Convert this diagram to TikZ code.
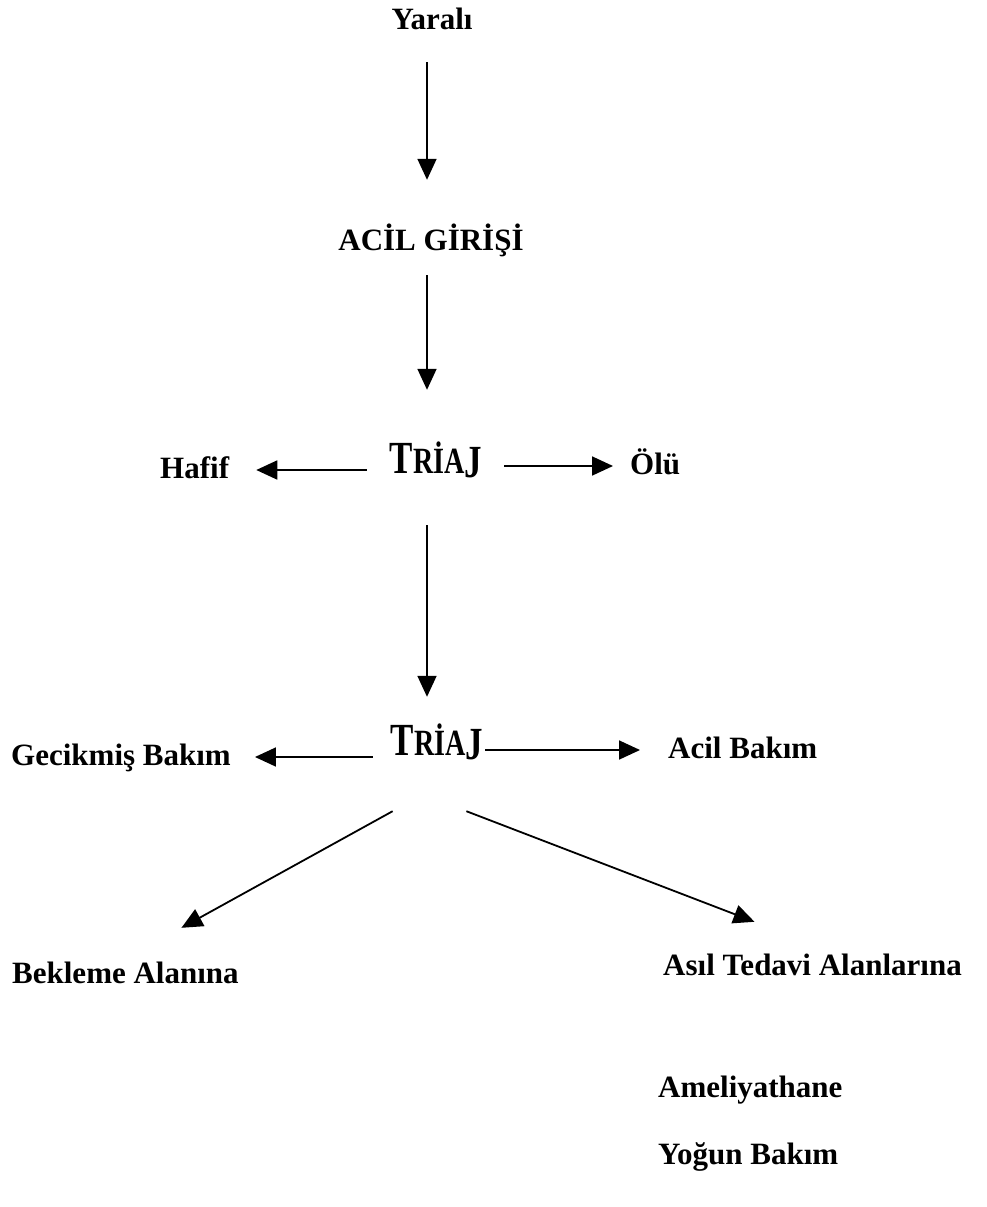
\documentclass[tikz,border=0pt]{standalone}
\usepackage{fontspec}
\setmainfont{Liberation Serif}
\newfontfamily\triajfont[FakeStretch=0.76]{Liberation Serif}
\usetikzlibrary{arrows.meta}
\newcommand{\triajyazi}{{\triajfont\bfseries\fontsize{46}{46}\selectfont T{\fontsize{37}{37}\selectfont RİA}\raisebox{-4pt}{J}}}
\tikzset{
	etiket/.style = {font=\fontsize{31}{31}\selectfont\bfseries, inner sep=0pt,
		text height=22pt, text depth=6pt},% yazi, cercevesiz
	ok/.style = {-{Triangle[length=21pt,width=19pt]}, line width=1.8pt,
		draw=black}% dolu uclu ok
}
\begin{document}
\begin{tikzpicture}[x=1pt,y=-1pt]
	\useasboundingbox (0,0) rectangle (986,1207);
	\coordinate (eksen) at (427,0);
	% orta sutun
	\node[etiket, anchor=base] (yarali) at (432,30) {Yaralı};
	\node[etiket, anchor=base] (acil) at (431,250) {ACİL GİRİŞİ};
	\node[etiket, anchor=base] (triaj1) at (436,473) {\triajyazi};
	\node[etiket, anchor=base] (triaj2) at (437,755) {\triajyazi};
	% yanlar
	\node[etiket, anchor=base west] (hafif) at (160,478) {Hafif};
	\node[etiket, anchor=base west] (olu) at (630,474) {Ölü};
	\node[etiket, anchor=base west] (gecikmis) at (11,765) {Gecikmiş Bakım};
	\node[etiket, anchor=base west] (acilbakim) at (668,758) {Acil Bakım};
	\node[etiket, anchor=base west] (bekleme) at (12,983) {Bekleme Alanına};
	\node[etiket, anchor=base west] (asil) at (663,975) {Asıl Tedavi Alanlarına};
	\node[etiket, anchor=base west] (ameliyat) at (658,1097) {Ameliyathane};
	\node[etiket, anchor=base west] (yogun) at (658,1164) {Yoğun Bakım};
	% oklar
	\draw[ok, shorten <=26pt, shorten >=48pt] (yarali.south -| eksen) -- (acil.north -| eksen);
	\draw[ok, shorten <=19pt, shorten >=61pt] (acil.south -| eksen) -- (triaj1.north -| eksen);
	\draw[ok, shorten <=46pt, shorten >=36pt] (triaj1.south -| eksen) -- (triaj2.north -| eksen);
	\draw[ok, shorten <=23pt, shorten >=27pt] (triaj1.west |- hafif.east) -- (hafif.east);
	\draw[ok, shorten <=22pt, shorten >=17pt] (triaj1.east |- olu.west) -- (olu.west);
	\draw[ok, shorten <=18pt, shorten >=24pt] (triaj2.west |- gecikmis.east) -- (gecikmis.east);
	\draw[ok, shorten <=2pt, shorten >=28pt] (triaj2.east |- acilbakim.west) -- (acilbakim.west);
	\draw[ok] ([xshift=2pt,yshift=-50pt]triaj2.south west) -- ([xshift=56pt,yshift=33pt]bekleme.north);
	\draw[ok] ([xshift=-17pt,yshift=-50pt]triaj2.south east) -- ([xshift=-58pt,yshift=31pt]asil.north);
\end{tikzpicture}
\end{document}
